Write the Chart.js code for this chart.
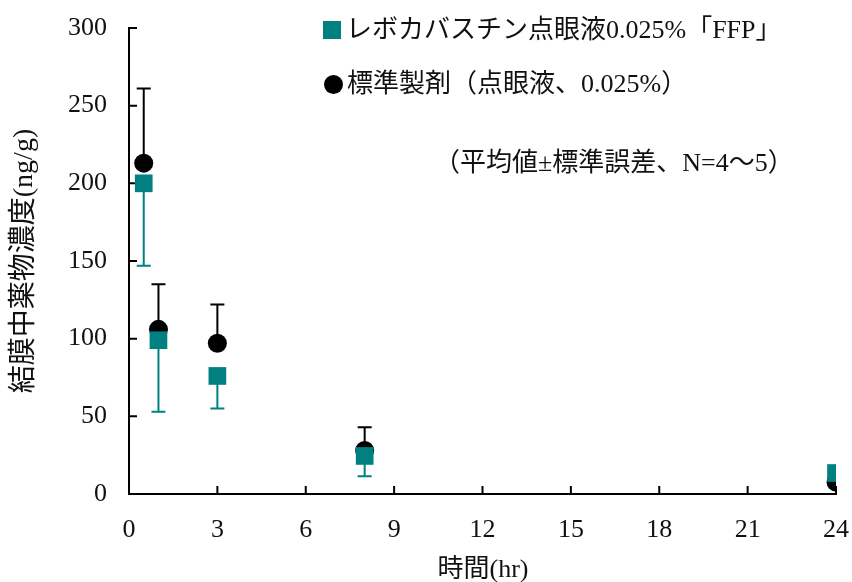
<!DOCTYPE html>
<html>
<head>
<meta charset="utf-8">
<script src="https://cdn.jsdelivr.net/npm/chart.js@4"></script>
<style>
  html, body { margin: 0; padding: 0; background: #fff; }
  #wrap { position: relative; width: 852px; height: 582px; overflow: hidden; }
  canvas { position: absolute; left: 0; top: 0; }
  .lbl { position: absolute; font-family: "Liberation Serif", "Noto Sans CJK JP", serif; font-size: 26px; color: #111; white-space: nowrap; line-height: 30px; }
</style>
</head>
<body>
<div id="wrap">
  <canvas id="ch" width="852" height="582"></canvas>
  <div class="lbl" style="left:323px;top:15px"><span style="display:inline-block;width:18px;height:18px;background:#008080;vertical-align:-1px;margin-right:5px"></span>レボカバスチン点眼液0.025%「FFP」</div>
  <div class="lbl" style="left:324px;top:69px"><span style="display:inline-block;width:19px;height:19px;border-radius:50%;background:#000;vertical-align:-2px;margin-right:4px"></span>標準製剤（点眼液、0.025%）</div>
  <div class="lbl" style="left:434px;top:148px">（平均値±標準誤差、N=4～5）</div>
  <div class="lbl" style="left:0;width:966px;text-align:center;top:554px">時間(hr)</div>
</div>
<script>
// ── データ ─────────────────────────────────────────────
const hours     = [0.5, 1, 3, 8, 24];
const testMean  = [200, 99, 76, 24.5, 13.5];   // レボカバスチン点眼液0.025%「FFP」
const testErr   = [53, 46, 21, 13, 0];
const refMean   = [213, 106, 97, 28, 7.7];     // 標準製剤
const refErr    = [48, 29, 25, 15, 0];
const xTicks    = [0, 3, 6, 9, 12, 15, 18, 21, 24];
const yTicks    = [0, 50, 100, 150, 200, 250, 300];

const TEAL = '#008080';
const FONT = '"Liberation Serif", "Noto Sans CJK JP", serif';

// 誤差棒（テストは下向き、標準製剤は上向き）と内向き目盛
const errPlugin = {
    id: 'errbars',
    beforeDatasetsDraw(chart) {
        const { ctx, scales: { x, y } } = chart;
        ctx.save();
        ctx.lineWidth = 2;
        const bar = (xv, from, to, color) => {
            const px = x.getPixelForValue(xv);
            const p1 = y.getPixelForValue(from), p2 = y.getPixelForValue(to);
            ctx.strokeStyle = color;
            ctx.beginPath();
            ctx.moveTo(px, p1); ctx.lineTo(px, p2);
            ctx.moveTo(px - 7, p2); ctx.lineTo(px + 7, p2);
            ctx.stroke();
        };
        hours.forEach((h, i) => {
            if (testErr[i]) bar(h, testMean[i], testMean[i] - testErr[i], TEAL);
            if (refErr[i])  bar(h, refMean[i],  refMean[i] + refErr[i], '#000');
        });
        // 目盛（内向き）
        ctx.strokeStyle = '#000';
        const b = y.getPixelForValue(0), l = x.getPixelForValue(0);
        ctx.beginPath();
        xTicks.forEach(v => { const px = x.getPixelForValue(v); ctx.moveTo(px, b); ctx.lineTo(px, b - 8); });
        yTicks.forEach(v => { const py = y.getPixelForValue(v); ctx.moveTo(l, py); ctx.lineTo(l + 8, py); });
        ctx.stroke();
        ctx.restore();
    },
};

new Chart(document.getElementById('ch').getContext('2d'), {
    type: 'scatter',
    data: {
        datasets: [
            { label: 'レボカバスチン点眼液0.025%「FFP」', data: hours.map((h, i) => ({ x: h, y: testMean[i] })),
              pointStyle: 'rect', pointRadius: 12.5, backgroundColor: TEAL, borderColor: TEAL, borderWidth: 0 },
            { label: '標準製剤（点眼液、0.025%）', data: hours.map((h, i) => ({ x: h, y: refMean[i] })),
              pointStyle: 'circle', pointRadius: 9.5, backgroundColor: '#000', borderColor: '#000', borderWidth: 0 },
        ],
    },
    options: {
        responsive: false, animation: false,
        layout: { padding: { top: 28, right: 16, left: 0, bottom: 0 } },
        plugins: { legend: { display: false }, tooltip: { enabled: false } },
        scales: {
            x: {
                type: 'linear', min: 0, max: 24,
                afterBuildTicks: s => { s.ticks = xTicks.map(v => ({ value: v })); },
                afterFit: s => { s.height = 88; s.paddingLeft = 0; s.paddingRight = 0; },
                grid: { display: false },
                border: { display: true, color: '#000', width: 2 },
                ticks: { color: '#111', font: { family: FONT, size: 26 }, padding: 13 },
                title: { display: false },
            },
            y: {
                min: 0, max: 300,
                afterBuildTicks: s => { s.ticks = yTicks.map(v => ({ value: v })); },
                afterFit: s => { s.width = 129; s.paddingTop = 0; s.paddingBottom = 0; },
                grid: { display: false },
                border: { display: true, color: '#000', width: 2 },
                ticks: { color: '#111', font: { family: FONT, size: 26 }, padding: 14 },
                title: { display: true, text: '結膜中薬物濃度(ng/g)', color: '#111', font: { family: FONT, size: 28 }, padding: { top: 8, bottom: 0 } },
            },
        },
    },
    plugins: [errPlugin],
});
</script>
</body>
</html>
